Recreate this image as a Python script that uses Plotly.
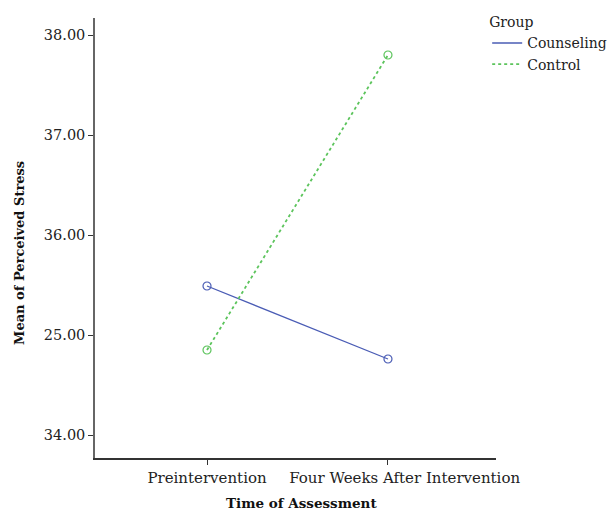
import plotly.graph_objects as go

# Data
categories = ["Preintervention", "Four Weeks After Intervention"]
counseling = [35.49, 34.76]
control = [34.85, 37.80]
ytick_vals = [34, 35, 36, 37, 38]
ytick_text = ["34.00", "25.00", "36.00", "37.00", "38.00"]
groups = ["Counseling", "Control"]

FONT = "DejaVu Serif"
blue = "#4a5cb5"
green = "#5cc45c"

fig = go.Figure()
fig.add_trace(go.Scatter(
    x=[0, 1], y=counseling, name=groups[0], mode="lines+markers", showlegend=False,
    line=dict(color=blue, width=1.3, dash="solid"),
    marker=dict(symbol="circle-open", size=8, color=blue, line=dict(width=1.2)),
))
fig.add_trace(go.Scatter(
    x=[0, 1], y=control, name=groups[1], mode="lines+markers", showlegend=False,
    line=dict(color=green, width=1.8, dash="dot"),
    marker=dict(symbol="circle-open", size=8, color=green, line=dict(width=1.2)),
))
# legend-only entries (line symbols without markers)
fig.add_trace(go.Scatter(x=[None], y=[None], name=groups[0], mode="lines",
                         line=dict(color=blue, width=1.3, dash="solid")))
fig.add_trace(go.Scatter(x=[None], y=[None], name=groups[1], mode="lines",
                         line=dict(color=green, width=1.8, dash="dot")))

tick_labels = [categories[0], "\u00a0" * 7 + categories[1]]

fig.update_layout(
    width=614, height=515, autosize=False,
    margin=dict(l=95, r=118, t=18, b=57, autoexpand=False),
    paper_bgcolor="white", plot_bgcolor="white",
    font=dict(family=FONT, size=14, color="#222"),
    showlegend=True,
    legend=dict(
        title=dict(text="Group", font=dict(family=FONT, size=14)),
        x=0.978, y=1.02, xanchor="left", yanchor="top",
        font=dict(family=FONT, size=14),
        tracegroupgap=0, itemwidth=30,
        bgcolor="rgba(0,0,0,0)",
    ),
    xaxis=dict(
        range=[-0.619, 1.597],
        tickvals=[0, 1], ticktext=tick_labels, tickangle=0, automargin=False,
        showgrid=False, zeroline=False,
        showline=True, linecolor="#333", linewidth=1.5,
        ticks="outside", ticklen=5, tickcolor="#333",
        tickfont=dict(family=FONT, size=15, color="#222"),
    ),
    yaxis=dict(
        range=[33.77, 38.17], automargin=False,
        tickvals=ytick_vals, ticktext=ytick_text,
        showgrid=False, zeroline=False,
        showline=True, linecolor="#666", linewidth=1.5,
        ticks="outside", ticklen=5, tickcolor="#333",
        tickfont=dict(family=FONT, size=14.5, color="#222"),
    ),
    annotations=[
        dict(text="<b>Time of Assessment</b>", xref="paper", yref="paper",
             x=0.514, y=-0.126, xanchor="center", yanchor="bottom", showarrow=False,
             font=dict(family=FONT, size=13.5, color="#111")),
        dict(text="<b>Mean of Perceived Stress</b>", xref="paper", yref="paper",
             x=-0.187, y=0.466, xanchor="center", yanchor="middle", showarrow=False,
             textangle=-90, font=dict(family=FONT, size=13, color="#111")),
    ],
)

fig.write_html("out.html", config={"displayModeBar": False},
               post_script="document.body.style.margin='0';")
